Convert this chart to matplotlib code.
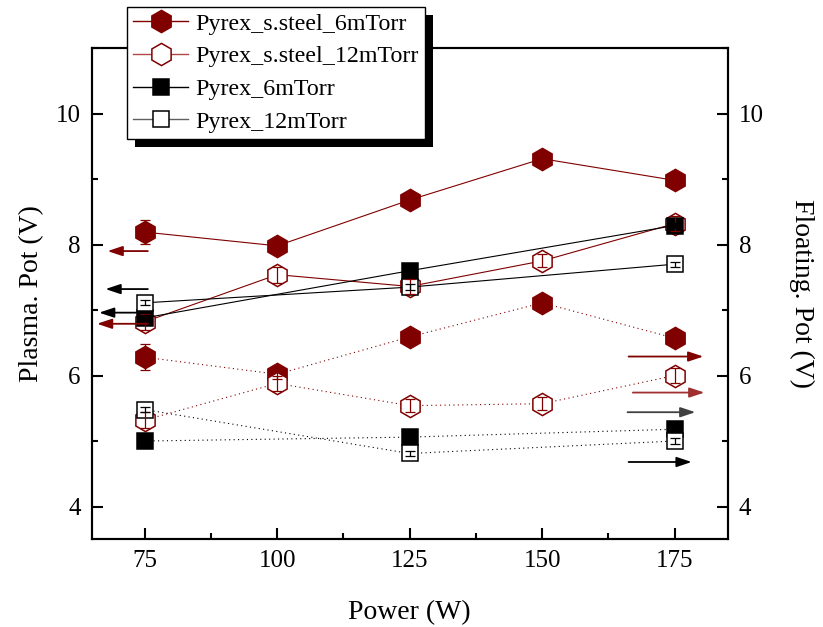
import numpy as np
import matplotlib.pyplot as plt
from matplotlib.patches import Rectangle
from matplotlib.lines import Line2D
from matplotlib.ticker import MultipleLocator

plt.rcParams['font.family'] = ['Liberation Serif', 'DejaVu Serif']

RED = '#800000'

power = [75, 100, 125, 150, 175]
power_pyrex = [75, 125, 175]

# plasma potential (left axis, solid lines)
ss6_plasma = [8.19, 7.98, 8.68, 9.31, 8.98]
ss6_plasma_err = [0.18, 0.08, 0.08, 0.08, 0.08]
ss12_plasma = [6.82, 7.54, 7.36, 7.75, 8.32]
ss12_plasma_err = [0.12, 0.12, 0.12, 0.1, 0.12]
py6_plasma = [6.88, 7.60, 8.29]
py12_plasma = [7.11, 7.35, 7.70]
py_plasma_err = [0.04, 0.04, 0.04]

# floating potential (right axis, dotted lines)
ss6_float = [6.28, 6.02, 6.59, 7.11, 6.57]
ss6_float_err = [0.2, 0.08, 0.08, 0.08, 0.08]
ss12_float = [5.32, 5.88, 5.54, 5.57, 6.00]
ss12_float_err = [0.12, 0.12, 0.1, 0.1, 0.12]
py6_float = [5.00, 5.06, 5.18]
py12_float = [5.48, 4.81, 5.00]
py_float_err = [0.04, 0.04, 0.04]

labels = ['Pyrex_s.steel_6mTorr', 'Pyrex_s.steel_12mTorr', 'Pyrex_6mTorr', 'Pyrex_12mTorr']

# arrows pointing to the axis each group belongs to: (y, x_from, x_to, color)
arrows = [
    (7.90, 75.6, 68.0, RED),
    (7.32, 75.6, 67.6, 'black'),
    (6.96, 75.6, 66.4, 'black'),
    (6.79, 75.6, 66.0, RED),
    (6.29, 166.3, 180.4, RED),
    (5.74, 167.1, 180.6, '#a03030'),
    (5.44, 166.1, 178.9, '#404040'),
    (4.68, 166.3, 178.2, 'black'),
]

fig = plt.figure(figsize=(8.23, 6.27), dpi=100)
ax = fig.add_axes([0.1114, 0.1399, 0.7728, 0.7835])
ax2 = ax.twinx()

hex_ms = 16
sq_ms = 11.5
mew = 1.1
lw = 0.8


def series(a, x, y, err, marker, ms, color, face, ls):
    a.plot(x, y, color=color, lw=lw, ls=ls, marker=marker, ms=ms,
           mfc=face, mec=color, mew=mew, zorder=2)
    a.errorbar(x, y, yerr=err, fmt='none', ecolor=color, elinewidth=0.9,
               capsize=3.5, capthick=0.9, zorder=3)


dot = (0, (1, 3))
series(ax, power, ss6_plasma, ss6_plasma_err, 'h', hex_ms, RED, RED, '-')
series(ax, power, ss12_plasma, ss12_plasma_err, 'h', hex_ms, RED, 'white', '-')
series(ax, power_pyrex, py6_plasma, py_plasma_err, 's', sq_ms, 'black', 'black', '-')
series(ax, power_pyrex, py12_plasma, py_plasma_err, 's', sq_ms, 'black', 'white', '-')

series(ax2, power, ss6_float, ss6_float_err, 'h', hex_ms, RED, RED, dot)
series(ax2, power, ss12_float, ss12_float_err, 'h', hex_ms, RED, 'white', dot)
series(ax2, power_pyrex, py6_float, py_float_err, 's', sq_ms, 'black', 'black', dot)
series(ax2, power_pyrex, py12_float, py_float_err, 's', sq_ms, 'black', 'white', dot)

for y, x0, x1, c in arrows:
    ax.annotate('', xy=(x1, y), xytext=(x0, y),
                arrowprops=dict(arrowstyle='-|>,head_length=0.9,head_width=0.3',
                                color=c, lw=1.3, shrinkA=0, shrinkB=0))

for a in (ax, ax2):
    a.set_xlim(65, 185)
    a.set_ylim(3.5, 11)
    a.yaxis.set_major_locator(MultipleLocator(2))
    a.yaxis.set_minor_locator(MultipleLocator(1))
    for s in a.spines.values():
        s.set_linewidth(1.5)

ax.set_xticks(power)
ax.xaxis.set_minor_locator(MultipleLocator(12.5))
ax.tick_params(which='both', direction='in', width=1.5, labelsize=18, pad=8,
               top=False, right=False)
ax.tick_params(which='major', length=8)
ax.tick_params(which='minor', length=4)
ax2.tick_params(which='both', direction='in', width=1.5, labelsize=18, pad=8)
ax2.tick_params(which='major', length=8)
ax2.tick_params(which='minor', length=4)

ax.set_xlabel('Power (W)', fontsize=20, labelpad=20)
ax.set_ylabel('Plasma. Pot (V)', fontsize=20, labelpad=8)
ax2.set_ylabel('Floating. Pot (V)', fontsize=20, rotation=270, labelpad=36)

handles = [
    Line2D([], [], color=RED, lw=1, marker='h', ms=hex_ms, mfc=RED, mec=RED, mew=mew),
    Line2D([], [], color='#b04848', lw=1, marker='h', ms=hex_ms, mfc='white', mec=RED, mew=mew),
    Line2D([], [], color='black', lw=1, marker='s', ms=sq_ms, mfc='black', mec='black', mew=mew),
    Line2D([], [], color='#606060', lw=1, marker='s', ms=sq_ms, mfc='white', mec='black', mew=mew),
]
leg = fig.legend(handles, labels, loc='upper left', bbox_to_anchor=(127 / 823, 1 - 7 / 627),
                 fontsize=17.3, frameon=True, fancybox=False, framealpha=1,
                 edgecolor='black', handlelength=2.3, handletextpad=0.3,
                 borderpad=0.25, labelspacing=0.45, borderaxespad=0)
leg.get_frame().set_linewidth(1.0)
leg.set_zorder(10)

fig.canvas.draw()
bb = leg.get_window_extent().transformed(fig.transFigure.inverted())
off_x, off_y = 8 / 823, 8 / 627
fig.patches.append(Rectangle((bb.x0 + off_x, bb.y0 - off_y), bb.width, bb.height,
                             transform=fig.transFigure, facecolor='black',
                             edgecolor='none', zorder=9))

fig.savefig('out.png', dpi=100)
